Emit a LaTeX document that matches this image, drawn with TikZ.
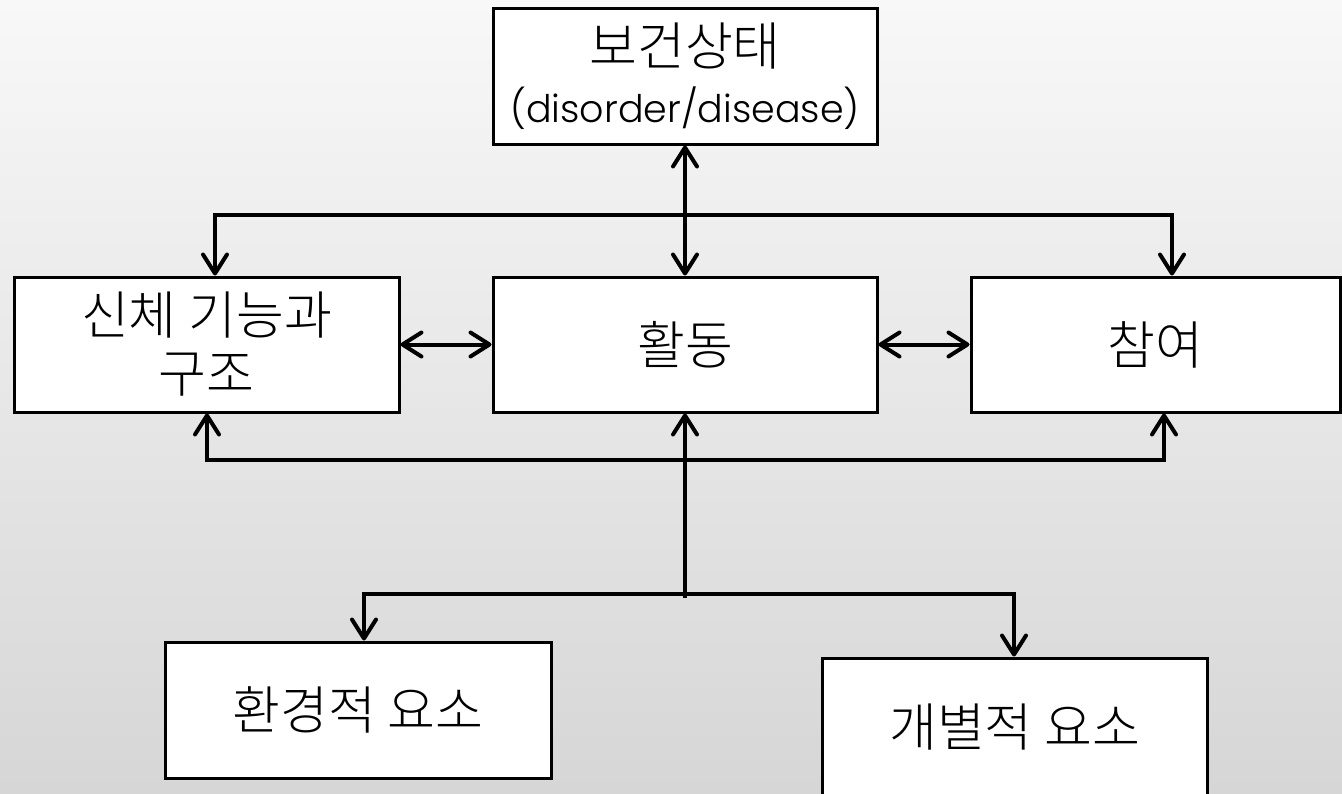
\documentclass[tikz,border=0pt]{standalone}
\usepackage{fontspec}
\setmainfont{Noto Sans CJK KR Light}
\newfontfamily\latinfont{Poppins Light}
\usetikzlibrary{arrows.meta,calc}
\definecolor{bgtop}{RGB}{248,248,248}
\definecolor{bgbot}{RGB}{214,214,214}
\begin{document}
\begin{tikzpicture}[x=1pt,y=-1pt,
  >={Straight Barb[length=19pt,width=24pt,round]},
  box/.style={draw=black,line width=3pt,fill=white,minimum width=#1,
    minimum height=136pt,inner sep=0pt,align=center,
    font=\fontsize{52}{58}\selectfont},
  conn/.style={line width=4pt,line join=miter}]
\useasboundingbox (0,0) rectangle (1342,793);
\shade[top color=bgtop,bottom color=bgbot] (0,0) rectangle (1342,793);
\begin{scope}
\clip (0,0) rectangle (1342,793);
\node[box=384pt] (health) at (685,76) {보건상태\\[-1pt]{\latinfont\fontsize{38}{42}\selectfont (disorder/disease)}};
\node[box=385pt,minimum height=135pt] (body) at (206.5,344.5) {신체 기능과\\구조};
\node[box=384pt,minimum height=135pt] (act) at (685,344.5) {활동};
\node[box=369pt,minimum height=135pt] (part) at (1155.5,344.5) {참여};
\node[box=386pt] (env) at (358,710) {환경적 요소};
\node[box=385pt,minimum height=139pt] (indiv) at (1014.5,727.5) {개별적 요소};
\coordinate (tl) at (215,215);
\coordinate (tr) at (1172,215);
\coordinate (bl) at (207,460);
\coordinate (br) at (1164,460);
\coordinate (ll) at (364,594);
\coordinate (lr) at (1014,594);
\coordinate (stem) at (685,598);
\draw[conn,<->] (health.south) -- (act.north);
\draw[conn,<->] (body.north -| tl) -- (tl) -- (tr) -- (part.north -| tr);
\draw[conn,<->] (body.east) -- (act.west);
\draw[conn,<->] (act.east) -- (part.west);
\draw[conn,<->] (body.south -| bl) -- (bl) -- (br) -- (part.south -| br);
\draw[conn,->] (stem) -- (act.south);
\draw[conn,<->] (env.north -| ll) -- (ll) -- (lr) -- (indiv.north -| lr);
\end{scope}
\end{tikzpicture}
\end{document}
